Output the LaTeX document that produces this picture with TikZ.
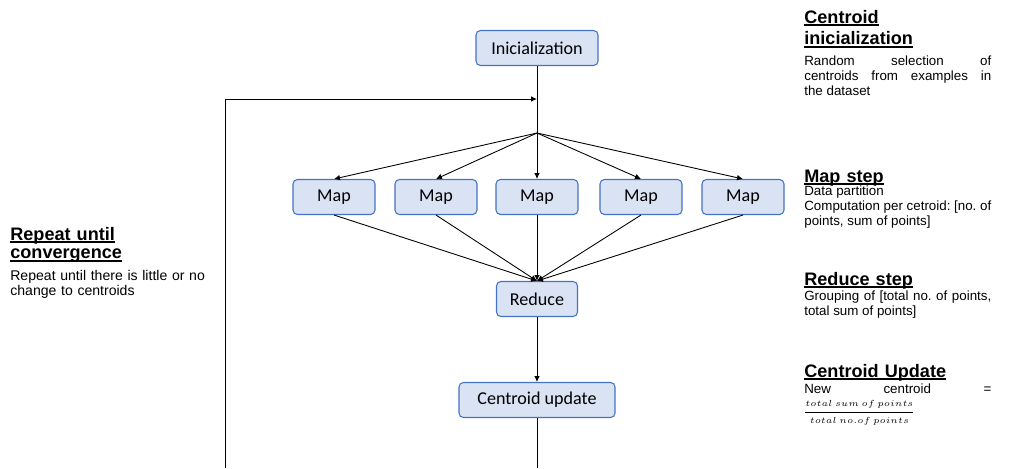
\documentclass[tikz,border=0pt]{standalone}
\usepackage{fontspec}
\setmainfont{Liberation Sans}
\newfontfamily\boxfont{Carlito}
\usetikzlibrary{arrows.meta}
\frenchspacing

\definecolor{boxfill}{HTML}{DAE3F3}
\definecolor{boxline}{HTML}{4472C4}

% Heading underline: fixed depth and weight
\newcommand\ulhead[1]{\leavevmode\setbox0\hbox{#1}\rlap{\rule[-1.8pt]{\wd0}{1pt}}\box0}
\newcommand\headfont{\fontsize{10.3}{12.5}\selectfont\bfseries}
\newcommand\bodyfont{\fontsize{7.6}{8.8}\selectfont}

\begin{document}
\begin{tikzpicture}[
    x=0.02cm, y=-0.02cm, % one unit per pixel, y downwards
    >={Latex[length=3.4pt,width=3.2pt]}, % Default arrow tip
    stage/.style={draw=boxline, fill=boxfill, line width=0.6pt, rounded corners=2.5pt,
        minimum height=0.7cm, inner sep=0pt, font=\boxfont\fontsize{10.3}{12}\selectfont},
    flow/.style={->, line width=0.5pt}, % Connectors
    head/.style={anchor=base west, inner sep=0pt, text width=3.74cm, align=left, font=\headfont},
    note/.style={anchor=base west, inner sep=0pt, text width=3.74cm, align=justify, font=\bodyfont}
]
    \useasboundingbox (0,0) rectangle (1009,468);

    % Processing stages
    \node[stage, minimum width=2.44cm] (init) at (537,48) {Inicialization};
    \foreach \x [count=\i] in {334,436,537,641,743}
        \node[stage, minimum width=1.64cm] (map\i) at (\x,197) {Map};
    \node[stage, minimum width=1.62cm] (reduce) at (537,299) {Reduce};
    \node[stage, minimum width=3.12cm] (update) at (537,400) {Centroid update};

    % Branch and loop points
    \coordinate (split) at (537,133);
    \coordinate (join) at (537,99);
    \coordinate (back) at (225,468);
    \coordinate (exit) at (537,468);

    % Connectors
    \draw[line width=0.5pt] (init.south) -- (split);
    \foreach \i in {1,...,5}
        \draw[flow] (split) -- (map\i.north);
    \foreach \i in {1,...,5}
        \draw[flow] (map\i.south) -- (reduce.north);
    \draw[flow] (reduce) -- (update);
    \draw[line width=0.5pt] (update) -- (exit);
    \draw[flow] (back) |- (join);

    % Descriptions on the right
    \node[head] (inithead) at (804,23) {\ulhead{Centroid}\\\ulhead{inicialization}};
    \node[note] (initnote) at (804,65) {Random selection of\linebreak centroids from examples in\linebreak the dataset};

    \node[head] (maphead) at (804,182) {\ulhead{Map step}};
    \node[note] (mapnote) at (804,195) {Data partition\\Computation per cetroid: [no. of\linebreak points, sum of points]};

    \node[head] (redhead) at (804,285) {\ulhead{Reduce step}};
    \node[note] (rednote) at (804,300) {Grouping of [total no. of points,\linebreak total sum of points]};

    \node[head] (updhead) at (804,377) {\ulhead{Centroid Update}};
    \node[note] (updnote) at (804,393) {\makebox[\linewidth][s]{New\hfill centroid\hfill =}};
    \node[anchor=west, inner sep=0pt, font=\fontsize{5.2}{6.5}\selectfont] (updfrac) at (803,413)
        {$\displaystyle\frac{total\ sum\ of\ points}{total\ no.of\ points}$};

    % Loop description on the left
    \node[head, text width=4cm, font={\fontsize{10.3}{10.8}\selectfont\bfseries}] (loophead) at (10,240)
        {\ulhead{Repeat until}\\\ulhead{convergence}};
    \node[note, text width=4.1cm, align=left, font={\fontsize{8}{8.6}\selectfont}] (loopnote) at (10,280)
        {Repeat until there is little or no\\change to centroids};

\end{tikzpicture}
\end{document}
